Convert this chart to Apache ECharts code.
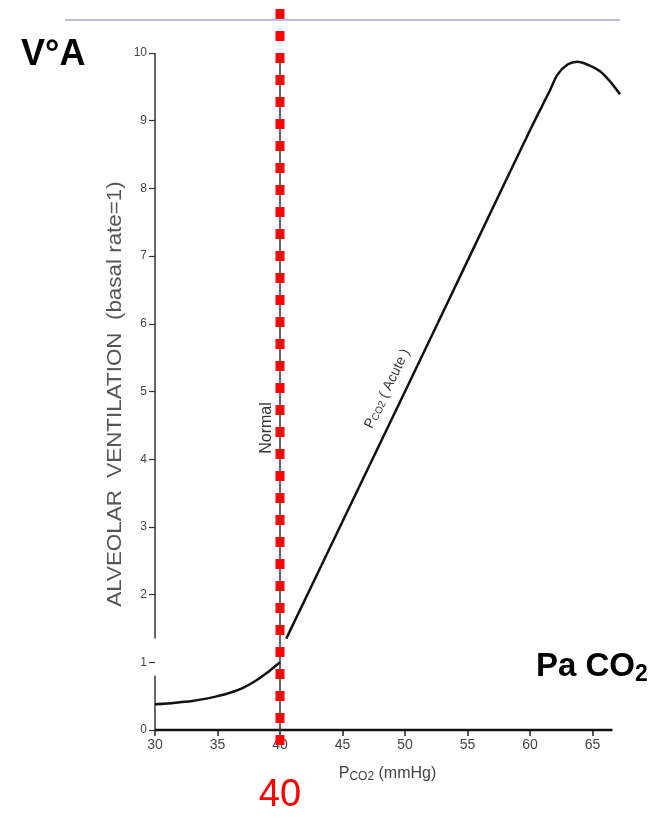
<!DOCTYPE html>
<html><head><meta charset="utf-8">
<script src="https://cdn.jsdelivr.net/npm/echarts@6/dist/echarts.min.js"></script>
<style>html,body{margin:0;padding:0;background:#fff}#c{width:667px;height:819px}</style>
</head><body><div id="c"></div>
<script>
// ---- data ----
const xTicks = [30, 35, 40, 45, 50, 55, 60, 65];
const yTicks = [0, 1, 2, 3, 4, 5, 6, 7, 8, 9, 10];
const lowPco2 = [30, 31, 32, 33, 34, 35, 36, 37, 38, 39, 40];
const lowVent = [0.38, 0.39, 0.41, 0.43, 0.46, 0.50, 0.55, 0.62, 0.72, 0.85, 1.0];
const acutePco2 = [40.5, 45, 50, 55, 60, 61.6, 62.2, 63, 63.8, 64.7, 65.6, 66.4, 67.2];
const acuteVent = [1.35, 3.08, 5.0, 6.93, 8.86, 9.45, 9.68, 9.83, 9.87, 9.82, 9.73, 9.58, 9.39];
const normalPco2 = 40;
const normalRange = [0, 9.9];
const markerRange = [-0.22, 10.78];
const yAxisSegments = [[0, 0.8], [1.35, 10]];
const xAxisSegment = [30, 66.6];
const xRange = [30, 67.2];
const yRange = [0, 10];

const zip = (xs, ys) => xs.map((x, i) => [x, ys[i]]);
const chart = echarts.init(document.getElementById('c'), null, {renderer: 'canvas'});
const FONT = '"Liberation Sans", Arial, sans-serif';

const series = [];
yAxisSegments.forEach(seg => series.push({
  type: 'line', data: seg.map(v => [xRange[0], v]), symbol: 'none', silent: true,
  lineStyle: {color: '#333', width: 1.5}, z: 3
}));
series.push({
  type: 'line', data: xAxisSegment.map(v => [v, yRange[0]]), symbol: 'none', silent: true, clip: false,
  lineStyle: {color: '#111', width: 2.5}, z: 3
});
series.push({
  type: 'line', data: normalRange.map(v => [normalPco2, v]), symbol: 'none',
  lineStyle: {color: '#333', width: 1.5}, z: 3
});
series.push({
  type: 'line', data: zip(lowPco2, lowVent), smooth: 0.4, symbol: 'none', clip: false,
  lineStyle: {color: '#111', width: 2.5}, z: 4
});
series.push({
  type: 'line', data: zip(acutePco2, acuteVent), smooth: 0.3, symbol: 'none', clip: false,
  lineStyle: {color: '#111', width: 2.5}, z: 4
});
series.push({
  type: 'line', data: markerRange.map(v => [normalPco2, v]), symbol: 'none', clip: false,
  lineStyle: {color: '#ff0000', width: 9, type: [10, 12], cap: 'butt'}, z: 10
});

chart.setOption({
  animation: false,
  backgroundColor: '#fff',
  grid: {left: 155, right: 47, top: 53, bottom: 89, containLabel: false},
  xAxis: {
    type: 'value', min: xRange[0], max: xRange[1], interval: 5,
    axisLine: {show: false},
    axisTick: {show: true, length: 6, customValues: xTicks, lineStyle: {color: '#222', width: 1.5}},
    axisLabel: {customValues: xTicks, color: '#444', fontSize: 14, fontFamily: FONT, margin: 8},
    splitLine: {show: false},
    name: 'P{s|CO2} (mmHg)', nameLocation: 'middle', nameGap: 34,
    nameTextStyle: {color: '#444', fontSize: 16, fontFamily: FONT, padding: [0, 0, 0, 0],
      rich: {s: {fontSize: 12, color: '#444', fontFamily: FONT, padding: [7, 0, 0, 0]}}}
  },
  yAxis: {
    type: 'value', min: yRange[0], max: yRange[1], interval: 1,
    axisLine: {show: false},
    axisTick: {show: true, length: 6, customValues: yTicks, lineStyle: {color: '#333', width: 1.2}},
    axisLabel: {customValues: yTicks, color: '#444', fontSize: 12, fontFamily: FONT, margin: 8},
    splitLine: {show: false}
  },
  graphic: [
    {type: 'line', shape: {x1: 65, y1: 20, x2: 620, y2: 20}, style: {stroke: '#a9a9dc', lineWidth: 1.5}},
    {type: 'text', x: 21, y: 55, style: {text: 'V°A', font: 'bold 36px ' + FONT, fill: '#000', textVerticalAlign: 'middle'}},
    {type: 'text', x: 536, y: 667, style: {text: 'Pa CO{s|2}', font: 'bold 33px ' + FONT, fill: '#000', textVerticalAlign: 'middle',
      rich: {s: {font: 'bold 23px ' + FONT, fill: '#000', padding: [16, 0, 0, 0]}}}},
    {type: 'text', x: 115, y: 394, rotation: Math.PI / 2, scaleX: 1.12,
      style: {text: 'ALVEOLAR  VENTILATION  (basal rate=1)', font: '20px ' + FONT, fill: '#555', textAlign: 'center', textVerticalAlign: 'middle'}},
    {type: 'text', x: 267, y: 428, rotation: Math.PI / 2,
      style: {text: 'Normal', font: '16px ' + FONT, fill: '#333', textAlign: 'center', textVerticalAlign: 'middle'}},
    {type: 'text', x: 394, y: 392, rotation: 1.115,
      style: {text: 'P{s|CO2} ( Acute )', font: '14px ' + FONT, fill: '#333', textAlign: 'center', textVerticalAlign: 'bottom',
        rich: {s: {font: '10px ' + FONT, fill: '#333', padding: [5, 0, 0, 0]}}}},
    {type: 'text', x: 280, y: 796, style: {text: '40', font: '38px ' + FONT, fill: '#ff0000', textAlign: 'center', textVerticalAlign: 'middle'}}
  ],
  series: series
});
</script></body></html>
